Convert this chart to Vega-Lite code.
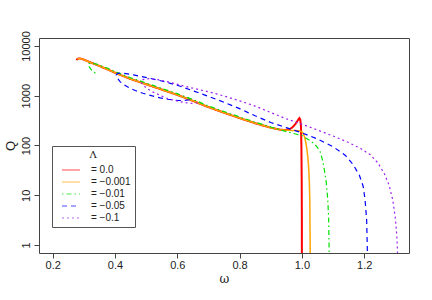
{
  "$schema": "https://vega.github.io/schema/vega-lite/v6.json",
  "width": 370,
  "height": 215,
  "autosize": {"type": "none"},
  "padding": {"left": 39, "top": 38, "right": 23, "bottom": 47},
  "background": "white",
  "config": {
    "font": "Liberation Sans",
    "view": {"stroke": "#444", "strokeWidth": 1},
    "axis": {"grid": false, "domain": false, "tickColor": "#444", "tickSize": 5, "labelColor": "#222", "labelFontSize": 11, "titleColor": "#222", "titleFontWeight": "normal"},
    "legend": {"title": "Λ", "orient": "none", "legendX": 13, "legendY": 108, "symbolType": "M-3,0H3", "symbolSize": 36, "symbolStrokeWidth": 1, "symbolOpacity": 0.7, "symbolOffset": 10, "labelFontSize": 10, "labelOffset": 15, "labelColor": "#222", "titleFont": "DejaVu Serif", "titleFontSize": 10, "titleFontWeight": "normal", "titleColor": "#222", "titleAnchor": "middle", "titlePadding": 5, "padding": 4, "strokeColor": "#555", "fillColor": "white", "rowPadding": 2}
  },
  "datasets": {
    "d": [
      {"s": "= 0.0", "i": 1, "w": 0.276, "q": 5240},
      {"s": "= 0.0", "i": 2, "w": 0.280, "q": 5500},
      {"s": "= 0.0", "i": 3, "w": 0.285, "q": 5620},
      {"s": "= 0.0", "i": 4, "w": 0.295, "q": 5450},
      {"s": "= 0.0", "i": 5, "w": 0.31, "q": 5000},
      {"s": "= 0.0", "i": 6, "w": 0.33, "q": 4450},
      {"s": "= 0.0", "i": 7, "w": 0.35, "q": 3950},
      {"s": "= 0.0", "i": 8, "w": 0.375, "q": 3400},
      {"s": "= 0.0", "i": 9, "w": 0.40, "q": 2900},
      {"s": "= 0.0", "i": 10, "w": 0.425, "q": 2500},
      {"s": "= 0.0", "i": 11, "w": 0.45, "q": 2170},
      {"s": "= 0.0", "i": 12, "w": 0.50, "q": 1700},
      {"s": "= 0.0", "i": 13, "w": 0.55, "q": 1330},
      {"s": "= 0.0", "i": 14, "w": 0.60, "q": 1040},
      {"s": "= 0.0", "i": 15, "w": 0.65, "q": 790},
      {"s": "= 0.0", "i": 16, "w": 0.70, "q": 590},
      {"s": "= 0.0", "i": 17, "w": 0.75, "q": 455},
      {"s": "= 0.0", "i": 18, "w": 0.80, "q": 355},
      {"s": "= 0.0", "i": 19, "w": 0.85, "q": 280},
      {"s": "= 0.0", "i": 20, "w": 0.90, "q": 228},
      {"s": "= 0.0", "i": 21, "w": 0.93, "q": 208},
      {"s": "= 0.0", "i": 22, "w": 0.945, "q": 205},
      {"s": "= 0.0", "i": 23, "w": 0.96, "q": 212},
      {"s": "= 0.0", "i": 24, "w": 0.97, "q": 232},
      {"s": "= 0.0", "i": 25, "w": 0.98, "q": 275},
      {"s": "= 0.0", "i": 26, "w": 0.987, "q": 320},
      {"s": "= 0.0", "i": 27, "w": 0.992, "q": 355},
      {"s": "= 0.0", "i": 28, "w": 0.995, "q": 330},
      {"s": "= 0.0", "i": 29, "w": 0.997, "q": 250},
      {"s": "= 0.0", "i": 30, "w": 0.9985, "q": 100},
      {"s": "= 0.0", "i": 31, "w": 0.9995, "q": 20},
      {"s": "= 0.0", "i": 32, "w": 1.0, "q": 3},
      {"s": "= 0.0", "i": 33, "w": 1.0, "q": 0.5},

      {"s": "= −0.001", "i": 1, "w": 0.279, "q": 5400},
      {"s": "= −0.001", "i": 2, "w": 0.285, "q": 5620},
      {"s": "= −0.001", "i": 3, "w": 0.295, "q": 5450},
      {"s": "= −0.001", "i": 4, "w": 0.31, "q": 5000},
      {"s": "= −0.001", "i": 5, "w": 0.33, "q": 4450},
      {"s": "= −0.001", "i": 6, "w": 0.35, "q": 3950},
      {"s": "= −0.001", "i": 7, "w": 0.375, "q": 3400},
      {"s": "= −0.001", "i": 8, "w": 0.40, "q": 2900},
      {"s": "= −0.001", "i": 9, "w": 0.425, "q": 2500},
      {"s": "= −0.001", "i": 10, "w": 0.45, "q": 2170},
      {"s": "= −0.001", "i": 11, "w": 0.50, "q": 1700},
      {"s": "= −0.001", "i": 12, "w": 0.55, "q": 1330},
      {"s": "= −0.001", "i": 13, "w": 0.60, "q": 1040},
      {"s": "= −0.001", "i": 14, "w": 0.65, "q": 790},
      {"s": "= −0.001", "i": 15, "w": 0.70, "q": 590},
      {"s": "= −0.001", "i": 16, "w": 0.75, "q": 455},
      {"s": "= −0.001", "i": 17, "w": 0.80, "q": 355},
      {"s": "= −0.001", "i": 18, "w": 0.85, "q": 280},
      {"s": "= −0.001", "i": 19, "w": 0.90, "q": 228},
      {"s": "= −0.001", "i": 20, "w": 0.93, "q": 208},
      {"s": "= −0.001", "i": 21, "w": 0.95, "q": 203},
      {"s": "= −0.001", "i": 22, "w": 0.97, "q": 200},
      {"s": "= −0.001", "i": 23, "w": 0.99, "q": 198},
      {"s": "= −0.001", "i": 24, "w": 1.0, "q": 190},
      {"s": "= −0.001", "i": 25, "w": 1.005, "q": 172},
      {"s": "= −0.001", "i": 26, "w": 1.01, "q": 140},
      {"s": "= −0.001", "i": 27, "w": 1.015, "q": 95},
      {"s": "= −0.001", "i": 28, "w": 1.019, "q": 60},
      {"s": "= −0.001", "i": 29, "w": 1.022, "q": 35},
      {"s": "= −0.001", "i": 30, "w": 1.024, "q": 18},
      {"s": "= −0.001", "i": 31, "w": 1.0255, "q": 8},
      {"s": "= −0.001", "i": 32, "w": 1.026, "q": 3},
      {"s": "= −0.001", "i": 33, "w": 1.027, "q": 0.5},

      {"s": "= −0.01", "i": 1, "w": 0.337, "q": 2830},
      {"s": "= −0.01", "i": 2, "w": 0.33, "q": 3050},
      {"s": "= −0.01", "i": 3, "w": 0.322, "q": 3450},
      {"s": "= −0.01", "i": 4, "w": 0.316, "q": 3900},
      {"s": "= −0.01", "i": 5, "w": 0.314, "q": 4200},
      {"s": "= −0.01", "i": 6, "w": 0.317, "q": 4450},
      {"s": "= −0.01", "i": 7, "w": 0.325, "q": 4550},
      {"s": "= −0.01", "i": 8, "w": 0.34, "q": 4350},
      {"s": "= −0.01", "i": 9, "w": 0.36, "q": 3900},
      {"s": "= −0.01", "i": 10, "w": 0.375, "q": 3600},
      {"s": "= −0.01", "i": 11, "w": 0.40, "q": 3070},
      {"s": "= −0.01", "i": 12, "w": 0.425, "q": 2650},
      {"s": "= −0.01", "i": 13, "w": 0.45, "q": 2300},
      {"s": "= −0.01", "i": 14, "w": 0.50, "q": 1800},
      {"s": "= −0.01", "i": 15, "w": 0.55, "q": 1410},
      {"s": "= −0.01", "i": 16, "w": 0.60, "q": 1100},
      {"s": "= −0.01", "i": 17, "w": 0.65, "q": 840},
      {"s": "= −0.01", "i": 18, "w": 0.70, "q": 625},
      {"s": "= −0.01", "i": 19, "w": 0.75, "q": 482},
      {"s": "= −0.01", "i": 20, "w": 0.80, "q": 376},
      {"s": "= −0.01", "i": 21, "w": 0.85, "q": 295},
      {"s": "= −0.01", "i": 22, "w": 0.90, "q": 235},
      {"s": "= −0.01", "i": 23, "w": 0.95, "q": 190},
      {"s": "= −0.01", "i": 24, "w": 1.0, "q": 158},
      {"s": "= −0.01", "i": 25, "w": 1.03, "q": 122},
      {"s": "= −0.01", "i": 26, "w": 1.045, "q": 100},
      {"s": "= −0.01", "i": 27, "w": 1.058, "q": 78},
      {"s": "= −0.01", "i": 28, "w": 1.066, "q": 52},
      {"s": "= −0.01", "i": 29, "w": 1.072, "q": 33},
      {"s": "= −0.01", "i": 30, "w": 1.078, "q": 19},
      {"s": "= −0.01", "i": 31, "w": 1.083, "q": 8.5},
      {"s": "= −0.01", "i": 32, "w": 1.086, "q": 3.5},
      {"s": "= −0.01", "i": 33, "w": 1.088, "q": 0.5},

      {"s": "= −0.05", "i": 1, "w": 0.64, "q": 830},
      {"s": "= −0.05", "i": 2, "w": 0.62, "q": 800},
      {"s": "= −0.05", "i": 3, "w": 0.60, "q": 805},
      {"s": "= −0.05", "i": 4, "w": 0.57, "q": 850},
      {"s": "= −0.05", "i": 5, "w": 0.545, "q": 905},
      {"s": "= −0.05", "i": 6, "w": 0.52, "q": 990},
      {"s": "= −0.05", "i": 7, "w": 0.49, "q": 1120},
      {"s": "= −0.05", "i": 8, "w": 0.465, "q": 1270},
      {"s": "= −0.05", "i": 9, "w": 0.445, "q": 1450},
      {"s": "= −0.05", "i": 10, "w": 0.43, "q": 1650},
      {"s": "= −0.05", "i": 11, "w": 0.417, "q": 1900},
      {"s": "= −0.05", "i": 12, "w": 0.408, "q": 2250},
      {"s": "= −0.05", "i": 13, "w": 0.404, "q": 2600},
      {"s": "= −0.05", "i": 14, "w": 0.407, "q": 2780},
      {"s": "= −0.05", "i": 15, "w": 0.415, "q": 2860},
      {"s": "= −0.05", "i": 16, "w": 0.43, "q": 2810},
      {"s": "= −0.05", "i": 17, "w": 0.46, "q": 2620},
      {"s": "= −0.05", "i": 18, "w": 0.49, "q": 2400},
      {"s": "= −0.05", "i": 19, "w": 0.55, "q": 1980},
      {"s": "= −0.05", "i": 20, "w": 0.60, "q": 1620},
      {"s": "= −0.05", "i": 21, "w": 0.65, "q": 1260},
      {"s": "= −0.05", "i": 22, "w": 0.70, "q": 970},
      {"s": "= −0.05", "i": 23, "w": 0.75, "q": 740},
      {"s": "= −0.05", "i": 24, "w": 0.80, "q": 550},
      {"s": "= −0.05", "i": 25, "w": 0.85, "q": 395},
      {"s": "= −0.05", "i": 26, "w": 0.90, "q": 290},
      {"s": "= −0.05", "i": 27, "w": 0.95, "q": 228},
      {"s": "= −0.05", "i": 28, "w": 1.0, "q": 180},
      {"s": "= −0.05", "i": 29, "w": 1.05, "q": 135},
      {"s": "= −0.05", "i": 30, "w": 1.10, "q": 95},
      {"s": "= −0.05", "i": 31, "w": 1.14, "q": 63},
      {"s": "= −0.05", "i": 32, "w": 1.165, "q": 41},
      {"s": "= −0.05", "i": 33, "w": 1.185, "q": 25},
      {"s": "= −0.05", "i": 34, "w": 1.197, "q": 15},
      {"s": "= −0.05", "i": 35, "w": 1.203, "q": 8},
      {"s": "= −0.05", "i": 36, "w": 1.208, "q": 3.2},
      {"s": "= −0.05", "i": 37, "w": 1.211, "q": 0.5},

      {"s": "= −0.1", "i": 1, "w": 0.665, "q": 720},
      {"s": "= −0.1", "i": 2, "w": 0.641, "q": 700},
      {"s": "= −0.1", "i": 3, "w": 0.61, "q": 755},
      {"s": "= −0.1", "i": 4, "w": 0.588, "q": 815},
      {"s": "= −0.1", "i": 5, "w": 0.565, "q": 900},
      {"s": "= −0.1", "i": 6, "w": 0.545, "q": 1020},
      {"s": "= −0.1", "i": 7, "w": 0.52, "q": 1200},
      {"s": "= −0.1", "i": 8, "w": 0.503, "q": 1390},
      {"s": "= −0.1", "i": 9, "w": 0.49, "q": 1650},
      {"s": "= −0.1", "i": 10, "w": 0.484, "q": 1850},
      {"s": "= −0.1", "i": 11, "w": 0.486, "q": 2050},
      {"s": "= −0.1", "i": 12, "w": 0.495, "q": 2170},
      {"s": "= −0.1", "i": 13, "w": 0.51, "q": 2200},
      {"s": "= −0.1", "i": 14, "w": 0.545, "q": 2070},
      {"s": "= −0.1", "i": 15, "w": 0.58, "q": 1830},
      {"s": "= −0.1", "i": 16, "w": 0.62, "q": 1570},
      {"s": "= −0.1", "i": 17, "w": 0.66, "q": 1370},
      {"s": "= −0.1", "i": 18, "w": 0.705, "q": 1180},
      {"s": "= −0.1", "i": 19, "w": 0.75, "q": 990},
      {"s": "= −0.1", "i": 20, "w": 0.80, "q": 790},
      {"s": "= −0.1", "i": 21, "w": 0.85, "q": 620},
      {"s": "= −0.1", "i": 22, "w": 0.90, "q": 460},
      {"s": "= −0.1", "i": 23, "w": 0.95, "q": 345},
      {"s": "= −0.1", "i": 24, "w": 1.0, "q": 268},
      {"s": "= −0.1", "i": 25, "w": 1.05, "q": 205},
      {"s": "= −0.1", "i": 26, "w": 1.10, "q": 155},
      {"s": "= −0.1", "i": 27, "w": 1.15, "q": 115},
      {"s": "= −0.1", "i": 28, "w": 1.19, "q": 86},
      {"s": "= −0.1", "i": 29, "w": 1.22, "q": 65},
      {"s": "= −0.1", "i": 30, "w": 1.245, "q": 44},
      {"s": "= −0.1", "i": 31, "w": 1.265, "q": 27},
      {"s": "= −0.1", "i": 32, "w": 1.28, "q": 16},
      {"s": "= −0.1", "i": 33, "w": 1.292, "q": 8},
      {"s": "= −0.1", "i": 34, "w": 1.30, "q": 3.5},
      {"s": "= −0.1", "i": 35, "w": 1.305, "q": 1.5},
      {"s": "= −0.1", "i": 36, "w": 1.308, "q": 0.5}
    ]
  },
  "data": {"name": "d"},
  "encoding": {
    "x": {
      "field": "w", "type": "quantitative",
      "scale": {"domain": [0.156, 1.344], "nice": false, "zero": false},
      "axis": {"values": [0.2, 0.4, 0.6, 0.8, 1.0, 1.2], "format": ".1f", "labelPadding": 1, "title": "ω", "titleFont": "DejaVu Serif", "titleFontSize": 12, "titleX": 185, "titleY": 25, "titleBaseline": "middle"}
    },
    "y": {
      "field": "q", "type": "quantitative",
      "scale": {"type": "log", "domain": [0.6918, 14454], "nice": false},
      "axis": {"values": [1, 10, 100, 1000, 10000], "format": "d", "labelAngle": -90, "labelAlign": "center", "labelBaseline": "bottom", "labelPadding": 3, "title": "Q", "titleFontSize": 13, "titleX": -29, "titleY": 107.5, "titleAngle": -90, "titleAlign": "center", "titleBaseline": "middle"}
    },
    "color": {
      "field": "s", "type": "nominal",
      "scale": {"domain": ["= 0.0", "= −0.001", "= −0.01", "= −0.05", "= −0.1"], "range": ["#FF0000", "#FFA500", "#00E000", "#0000FF", "#A020F0"]},
      "legend": {"title": "Λ"}
    },
    "strokeDash": {
      "field": "s", "type": "nominal",
      "scale": {"domain": ["= 0.0", "= −0.001", "= −0.01", "= −0.05", "= −0.1"], "range": [[1, 0], [1, 0], [1.5, 3, 5, 3], [5, 4], [2, 3]]},
      "legend": {"title": "Λ"}
    },
    "order": {"field": "i", "type": "quantitative"}
  },
  "layer": [
    {"transform": [{"filter": "datum.s === '= 0.0'"}], "mark": {"type": "line", "clip": true, "strokeWidth": 2}},
    {"transform": [{"filter": "datum.s === '= −0.001'"}], "mark": {"type": "line", "clip": true, "strokeWidth": 1.5}},
    {"transform": [{"filter": "datum.s !== '= 0.0' && datum.s !== '= −0.001'"}], "mark": {"type": "line", "clip": true, "strokeWidth": 1.2}}
  ]
}
